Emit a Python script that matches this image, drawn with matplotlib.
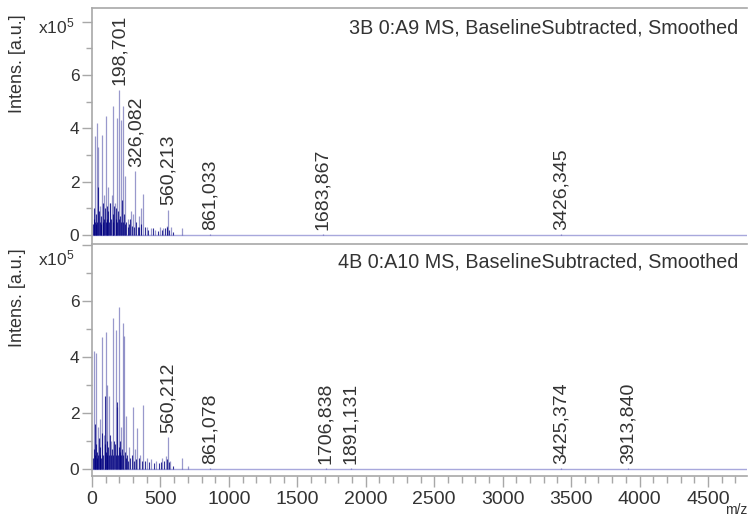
import matplotlib
matplotlib.use("Agg")
import matplotlib.pyplot as plt
from matplotlib.ticker import MultipleLocator, FixedLocator, FixedFormatter

plt.rcParams['font.family'] = ['Liberation Sans', 'DejaVu Sans']
plt.rcParams['mathtext.fontset'] = 'custom'
plt.rcParams['mathtext.rm'] = 'Liberation Sans'
plt.rcParams['mathtext.it'] = 'Liberation Sans'

# ---------------- data (intensity in units of 1e5) ----------------
top_title = "3B 0:A9 MS, BaselineSubtracted, Smoothed"
bot_title = "4B 0:A10 MS, BaselineSubtracted, Smoothed"

# tall / major peaks, top spectrum
top_mz = [22, 34, 46, 58, 71, 85, 102, 115, 130, 145, 156, 170, 185, 199, 214,
          229, 241, 260, 285, 300, 314, 340, 355, 370, 400, 430, 460, 500, 520,
          545, 557, 575, 655, 861, 1684, 3426]
top_int = [3.7, 4.2, 3.3, 1.1, 3.75, 1.5, 4.45, 1.8, 1.2, 1.5, 4.85, 1.2, 4.4, 5.45, 4.3,
           4.85, 2.2, 0.6, 0.9, 0.8, 2.4, 0.7, 1.0, 1.55, 0.3, 0.25, 0.2, 0.3, 0.25,
           0.35, 0.95, 0.3, 0.25, 0.04, 0.02, 0.02]
# dense low cluster, top spectrum
top_cl_mz = [10, 14, 18, 23, 26, 31, 38, 44, 50, 55, 63, 68, 77, 83, 90, 96, 101, 108,
             113, 120, 126, 135, 142, 150, 157, 163, 172, 178, 186, 192, 200, 206, 212,
             218, 225, 236, 244, 250, 262, 268, 280, 295, 308, 322, 333, 345, 360, 385,
             410, 445, 480, 510, 530, 550, 565, 590]
top_cl_int = [0.4, 0.6, 1.0, 0.5, 0.8, 0.4, 0.5, 1.8, 0.9, 0.5, 0.7, 0.4, 1.2, 0.5, 0.6,
              1.0, 0.5, 1.1, 0.6, 0.9, 0.5, 1.2, 0.6, 0.8, 0.5, 1.1, 0.6, 1.0, 0.5, 0.9,
              0.6, 0.7, 0.5, 1.3, 0.5, 0.8, 0.4, 0.5, 0.3, 0.4, 0.6, 0.35, 0.3, 0.5, 0.3,
              0.3, 0.4, 0.3, 0.2, 0.25, 0.15, 0.2, 0.25, 0.3, 0.2, 0.1]
top_lab_mz = [198.701, 326.082, 560.213, 861.033, 1683.867, 3426.345]
top_lab_int = [5.45, 2.4, 0.95, 0.04, 0.02, 0.02]
top_lab_txt = ["198,701", "326,082", "560,213", "861,033", "1683,867", "3426,345"]

# tall / major peaks, bottom spectrum
bot_mz = [17, 30, 45, 58, 71, 85, 102, 110, 125, 140, 156, 173, 185, 200, 215,
          229, 232, 246, 270, 302, 315, 331, 350, 372, 400, 430, 470, 515, 540,
          557, 570, 655, 700, 861, 1707, 1891, 3425, 3914]
bot_int = [4.2, 4.15, 1.5, 1.8, 4.7, 1.2, 4.9, 3.0, 2.6, 1.0, 5.4, 4.95, 2.2, 5.8, 1.5,
           5.2, 4.75, 1.9, 0.8, 2.2, 0.7, 1.45, 0.5, 2.3, 0.4, 0.35, 0.3, 0.4, 0.45,
           1.15, 0.3, 0.4, 0.1, 0.04, 0.02, 0.02, 0.02, 0.02]
bot_cl_mz = [10, 14, 20, 24, 27, 33, 38, 44, 50, 56, 62, 68, 75, 82, 92, 98, 103, 106,
             112, 118, 124, 130, 138, 145, 152, 160, 168, 174, 180, 188, 195, 201, 208,
             215, 222, 230, 238, 247, 255, 265, 275, 290, 305, 320, 340, 362, 390, 420,
             450, 490, 505, 525, 548, 565, 590]
bot_cl_int = [0.4, 0.7, 1.6, 0.5, 0.9, 0.4, 0.6, 0.5, 1.1, 0.5, 0.8, 0.4, 1.3, 0.5, 0.9,
              2.6, 0.6, 1.0, 0.5, 0.8, 0.5, 1.2, 0.5, 0.7, 0.5, 1.0, 0.9, 0.5, 2.4, 0.5,
              0.8, 0.6, 1.0, 0.5, 0.7, 0.5, 0.6, 0.4, 0.5, 0.3, 0.4, 0.5, 0.3, 0.35, 0.4,
              0.3, 0.3, 0.25, 0.2, 0.2, 0.25, 0.3, 0.35, 0.25, 0.1]
bot_lab_mz = [560.212, 861.078, 1706.838, 1891.131, 3425.374, 3913.840]
bot_lab_int = [1.15, 0.04, 0.02, 0.02, 0.02, 0.02]
bot_lab_txt = ["560,212", "861,078", "1706,838", "1891,131", "3425,374", "3913,840"]

mz_range = [0, 4780]
x_major = [0, 500, 1000, 1500, 2000, 2500, 3000, 3500, 4000, 4500]
y_major = [0, 2, 4, 6, 8]
y_labels = ["0", "2", "4", "6", ""]

# ---------------- figure ----------------
W, H = 749, 518
fig = plt.figure(figsize=(W / 100, H / 100), dpi=100)
ax1 = fig.add_axes([92 / W, 1 - 243 / H, (747 - 92) / W, 235 / H])
ax2 = fig.add_axes([92 / W, 1 - 476 / H, (747 - 92) / W, 232 / H])

navy = '#000080'
gray = '#a8a8a8'
txt = '#333333'

def draw(ax, mz, inten, cmz, cint, lmz, lint, ltxt, ylim):
    ax.plot(mz_range, [0, 0], color='#a8a8dc', lw=1.0, zorder=1)
    ax.vlines(cmz, 0, cint, colors=navy, lw=0.8, alpha=0.8, zorder=3)
    ax.vlines(mz, 0, inten, colors=navy, lw=0.9, alpha=0.4, zorder=2)
    for m, i, t in zip(lmz, lint, ltxt):
        ax.annotate(t, xy=(m, i), xytext=(0, 3), textcoords='offset points',
                    rotation=90, ha='center', va='bottom', fontsize=14, color=txt)
    ax.set_xlim(0, 4785)
    ax.set_ylim(*ylim)
    ax.spines['right'].set_visible(False)
    for s in ['top', 'left', 'bottom']:
        ax.spines[s].set_color(gray)
        ax.spines[s].set_linewidth(1.2)
    ax.yaxis.set_major_locator(FixedLocator(y_major))
    ax.yaxis.set_major_formatter(FixedFormatter(y_labels))
    ax.yaxis.set_minor_locator(FixedLocator([1, 3, 5, 7]))
    ax.tick_params(axis='y', which='major', length=7, width=1, color=gray,
                   labelsize=12.5, labelcolor=txt, pad=2)
    ax.tick_params(axis='y', which='minor', length=4, width=1, color=gray)

draw(ax1, top_mz, top_int, top_cl_mz, top_cl_int, top_lab_mz, top_lab_int, top_lab_txt, (-0.30, 8.51))
draw(ax2, bot_mz, bot_int, bot_cl_mz, bot_cl_int, bot_lab_mz, bot_lab_int, bot_lab_txt, (-0.25, 8.04))

ax1.spines['bottom'].set_visible(False)
ax1.tick_params(axis='x', which='both', bottom=False, labelbottom=False)
ax2.xaxis.set_major_locator(FixedLocator(x_major))
ax2.xaxis.set_minor_locator(MultipleLocator(100))
ax2.tick_params(axis='x', which='major', length=8, width=1, color=gray,
                labelsize=14, labelcolor=txt, pad=3)
ax2.tick_params(axis='x', which='minor', length=5, width=1, color=gray)

for ytop, ylab, ytitle, title in [(26, 64, 28, top_title), (258, 298, 262, bot_title)]:
    fig.text(38 / W, 1 - ytop / H, r'x10$^{5}$', ha='left', va='center', fontsize=12.5, color=txt)
    fig.text(18 / W, 1 - ylab / H, 'Intens. [a.u.]', rotation=90, ha='center', va='center',
             fontsize=13, color=txt)
    fig.text(738 / W, 1 - ytitle / H, title, ha='right', va='center', fontsize=14.2, color=txt)

fig.text(747 / W, 1 / H, 'm/z', ha='right', va='bottom', fontsize=10, color=txt)

fig.savefig('out.png', dpi=100)
